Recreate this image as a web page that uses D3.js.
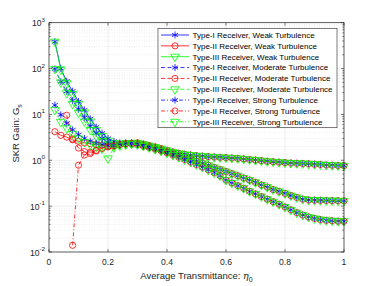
<!DOCTYPE html>
<html>
<head>
<meta charset="utf-8">
<script src="https://cdn.jsdelivr.net/npm/d3@7"></script>
<style>
  body { margin: 0; background: #fff; }
  svg { display: block; font-family: "Liberation Sans", Arial, sans-serif; }
</style>
</head>
<body>
<div id="chart"></div>
<script>
// average transmittance grid
const eta = [0.02, 0.04, 0.06, 0.08, 0.10, 0.12, 0.14, 0.16, 0.18, 0.20,
             0.22, 0.24, 0.26, 0.28, 0.30, 0.32, 0.34, 0.36, 0.38, 0.40,
             0.42, 0.44, 0.46, 0.48, 0.50, 0.52, 0.54, 0.56, 0.58, 0.60,
             0.62, 0.64, 0.66, 0.68, 0.70, 0.72, 0.74, 0.76, 0.78, 0.80,
             0.82, 0.84, 0.86, 0.88, 0.90, 0.92, 0.94, 0.96, 0.98, 1.00];

// low transmittance part (eta 0.02 .. 0.28), per receiver
const headWeakI     = [386, 100, 53, 32, 19, 12.5, 8, 5.3, 3.9, 3.0, 2.6, 2.4, 2.4, 2.4];
const headWeakII    = [4.2, 3.5, 3.2, 2.8, 2.6, 2.4, 2.3, 2.2, 2.15, 2.1, 2.15, 2.2, 2.3, 2.35];
const headWeakIII   = [386, 95, 48, 28, 17, 11, 7, 4.6, 3.4, 2.7, 2.4, 2.3, 2.35, 2.4];
const headModI      = [98, 52, 32, 20, 13, 8.5, 5.5, 3.9, 3.0, 2.5, 2.3, 2.3, 2.35, 2.35];
const headModII     = [null, null, 9.6, 2.9, 1.85, 1.55, 1.5, 1.65, 1.85, 2.0, 2.1, 2.2, 2.3, 2.35];
const headModIII    = [98, 50, 29, 17, 11, 7, 4.6, 3.3, 2.6, 2.2, 2.1, 2.2, 2.3, 2.3];
const headStrongI   = [16, 9.8, 6.4, 4.6, 3.6, 3.0, 2.6, 2.35, 2.2, 2.1, 2.1, 2.2, 2.3, 2.3];
const headStrongII  = [null, null, null, 0.014, 0.78, 1.3, 1.4, 1.6, 1.8, 1.95, 2.05, 2.15, 2.25, 2.3];
const headStrongIII = [12.6, 6.9, 5.0, 3.8, 3.0, 2.5, 2.2, 2.0, 1.8, 1.1, 1.9, 2.1, 2.2, 2.3];

// eta 0.30 .. 1.00, all receivers coincide per turbulence
const tailWeak = [2.40, 2.25, 2.10, 1.95, 1.80, 1.65, 1.52, 1.42, 1.35, 1.30,
                  1.26, 1.23, 1.20, 1.18, 1.16, 1.14, 1.12, 1.10, 1.07, 1.04,
                  1.01, 0.98, 0.95, 0.93, 0.91, 0.89, 0.87, 0.86, 0.85, 0.84,
                  0.82, 0.81, 0.79, 0.78, 0.77, 0.76];
const tailMod = [2.30, 2.15, 2.00, 1.85, 1.70, 1.55, 1.42, 1.30, 1.18, 1.05,
                 0.95, 0.86, 0.78, 0.70, 0.63, 0.57, 0.51, 0.46, 0.41, 0.37,
                 0.33, 0.29, 0.26, 0.23, 0.21, 0.19, 0.17, 0.155, 0.142, 0.137,
                 0.135, 0.134, 0.133, 0.132, 0.131, 0.130];
const tailStrong = [2.20, 2.05, 1.90, 1.75, 1.60, 1.45, 1.30, 1.17, 1.04, 0.92,
                    0.81, 0.71, 0.62, 0.54, 0.46, 0.37, 0.32, 0.28, 0.245, 0.21,
                    0.185, 0.162, 0.142, 0.125, 0.11, 0.096, 0.083, 0.072, 0.064, 0.058,
                    0.054, 0.051, 0.049, 0.048, 0.047, 0.047];

const seriesNames = [
  "Type-I Receiver, Weak Turbulence",
  "Type-II Receiver, Weak Turbulence",
  "Type-III Receiver, Weak Turbulence",
  "Type-I Receiver, Moderate Turbulence",
  "Type-II Receiver, Moderate Turbulence",
  "Type-III Receiver, Moderate Turbulence",
  "Type-I Receiver, Strong Turbulence",
  "Type-II Receiver, Strong Turbulence",
  "Type-III Receiver, Strong Turbulence"
];
const seriesValues = [
  headWeakI.concat(tailWeak), headWeakII.concat(tailWeak), headWeakIII.concat(tailWeak),
  headModI.concat(tailMod), headModII.concat(tailMod), headModIII.concat(tailMod),
  headStrongI.concat(tailStrong), headStrongII.concat(tailStrong), headStrongIII.concat(tailStrong)
];
const xTicks = [0, 0.2, 0.4, 0.6, 0.8, 1];
const yTickExps = [-2, -1, 0, 1, 2, 3];

const colors = ["#0000ff", "#ff0000", "#00ff00"];
const dashes = [null, "4,2.5", "4,2,1,2"];

const width = 381, height = 286;
const mLeft = 49, mRight = 344, mTop = 22.7, mBottom = 252;

const svg = d3.select("#chart").append("svg")
  .attr("width", width)
  .attr("height", height);

const x = d3.scaleLinear().domain([0, 1]).range([mLeft, mRight]);
const y = d3.scaleLog().domain([0.01, 1000]).range([mBottom, mTop]);

// grid
const grid = svg.append("g");
const minorVals = [];
yTickExps.slice(0, -1).forEach(function(e) {
  for (let k = 2; k <= 9; k++) minorVals.push(k * Math.pow(10, e));
});
grid.selectAll(".minor").data(minorVals).enter().append("line")
  .attr("x1", mLeft).attr("x2", mRight)
  .attr("y1", d => y(d)).attr("y2", d => y(d))
  .attr("stroke", "#d9d9d9").attr("stroke-width", 0.5)
  .attr("stroke-dasharray", "1,1.5");
grid.selectAll(".majy").data(yTickExps).enter().append("line")
  .attr("x1", mLeft).attr("x2", mRight)
  .attr("y1", d => y(Math.pow(10, d))).attr("y2", d => y(Math.pow(10, d)))
  .attr("stroke", "#e3e3e3").attr("stroke-width", 0.6);
grid.selectAll(".majx").data(xTicks).enter().append("line")
  .attr("x1", d => x(d)).attr("x2", d => x(d))
  .attr("y1", mTop).attr("y2", mBottom)
  .attr("stroke", "#e3e3e3").attr("stroke-width", 0.6);

// series
const markerFor = [
  d3.symbol().type(d3.symbolAsterisk).size(34),
  d3.symbol().type(d3.symbolCircle).size(30),
  d3.symbol().type(d3.symbolTriangle).size(32)
];

const line = d3.line()
  .defined(d => d.v != null)
  .x(d => x(d.e))
  .y(d => y(d.v));

const plot = svg.append("g");
seriesValues.forEach(function(vals, i) {
  const rec = i % 3, turb = Math.floor(i / 3);
  const pts = vals.map((v, j) => ({ e: eta[j], v: v }));
  plot.append("path")
    .datum(pts)
    .attr("d", line)
    .attr("fill", "none")
    .attr("stroke", colors[rec])
    .attr("stroke-width", 0.8)
    .attr("stroke-dasharray", dashes[turb]);
  plot.selectAll(".m" + i)
    .data(pts.filter(d => d.v != null))
    .enter().append("path")
    .attr("d", markerFor[rec])
    .attr("transform", d => "translate(" + x(d.e) + "," + y(d.v) + ")" + (rec === 2 ? " rotate(180)" : ""))
    .attr("fill", "none")
    .attr("stroke", colors[rec])
    .attr("stroke-width", 0.8);
});

// axes box and ticks
const axisColor = "#262626";
svg.append("rect")
  .attr("x", mLeft).attr("y", mTop)
  .attr("width", mRight - mLeft).attr("height", mBottom - mTop)
  .attr("fill", "none").attr("stroke", axisColor).attr("stroke-width", 0.7);

const ticks = svg.append("g").attr("stroke", axisColor).attr("stroke-width", 0.6);
xTicks.forEach(function(t) {
  ticks.append("line").attr("x1", x(t)).attr("x2", x(t)).attr("y1", mBottom).attr("y2", mBottom - 3);
  ticks.append("line").attr("x1", x(t)).attr("x2", x(t)).attr("y1", mTop).attr("y2", mTop + 3);
});
yTickExps.forEach(function(e) {
  const yy = y(Math.pow(10, e));
  ticks.append("line").attr("x1", mLeft).attr("x2", mLeft + 3).attr("y1", yy).attr("y2", yy);
  ticks.append("line").attr("x1", mRight).attr("x2", mRight - 3).attr("y1", yy).attr("y2", yy);
});
minorVals.forEach(function(v) {
  ticks.append("line").attr("x1", mLeft).attr("x2", mLeft + 1.6).attr("y1", y(v)).attr("y2", y(v));
  ticks.append("line").attr("x1", mRight).attr("x2", mRight - 1.6).attr("y1", y(v)).attr("y2", y(v));
});

// tick labels
svg.selectAll(".xt").data(xTicks).enter().append("text")
  .attr("x", d => x(d)).attr("y", 265)
  .attr("text-anchor", "middle")
  .attr("font-size", 8.6).attr("fill", axisColor)
  .text(d => d3.format("")(d));

yTickExps.forEach(function(e) {
  const t = svg.append("text")
    .attr("x", 45).attr("y", y(Math.pow(10, e)) + 3.5)
    .attr("text-anchor", "end")
    .attr("font-size", 8.6).attr("fill", axisColor);
  t.append("tspan").text("10");
  t.append("tspan").attr("dy", -4.5).attr("font-size", 6.2).text(e);
});

// axis labels
const xl = svg.append("text")
  .attr("x", (mLeft + mRight) / 2).attr("y", 279)
  .attr("text-anchor", "middle")
  .attr("font-size", 9.5).attr("fill", axisColor);
xl.append("tspan").text("Average Transmittance: ");
xl.append("tspan").attr("font-family", "DejaVu Serif").attr("font-style", "italic").text("\u03B7");
xl.append("tspan").attr("dy", 2.5).attr("font-size", 7).text("0");

const yl = svg.append("text")
  .attr("transform", "translate(19," + ((mTop + mBottom) / 2 - 4) + ") rotate(-90)")
  .attr("text-anchor", "middle")
  .attr("font-size", 9.5).attr("fill", axisColor);
yl.append("tspan").text("SKR Gain: G");
yl.append("tspan").attr("dy", 2.5).attr("font-size", 7).text("s");

// legend
const lg = svg.append("g");
lg.append("rect")
  .attr("x", 158).attr("y", 28.3)
  .attr("width", 179).attr("height", 99.4)
  .attr("fill", "#fff").attr("stroke", axisColor).attr("stroke-width", 0.6);
seriesNames.forEach(function(name, i) {
  const rec = i % 3, turb = Math.floor(i / 3);
  const yy = 35 + i * 10.85;
  lg.append("line")
    .attr("x1", 161).attr("x2", 189).attr("y1", yy).attr("y2", yy)
    .attr("stroke", colors[rec]).attr("stroke-width", 0.8)
    .attr("stroke-dasharray", dashes[turb]);
  lg.append("path")
    .attr("d", markerFor[rec])
    .attr("transform", "translate(175," + yy + ")" + (rec === 2 ? " rotate(180)" : ""))
    .attr("fill", "none").attr("stroke", colors[rec]).attr("stroke-width", 0.8);
  lg.append("text")
    .attr("x", 192.5).attr("y", yy + 2.9)
    .attr("font-size", 8).attr("fill", "#000")
    .text(name);
});
</script>
</body>
</html>
